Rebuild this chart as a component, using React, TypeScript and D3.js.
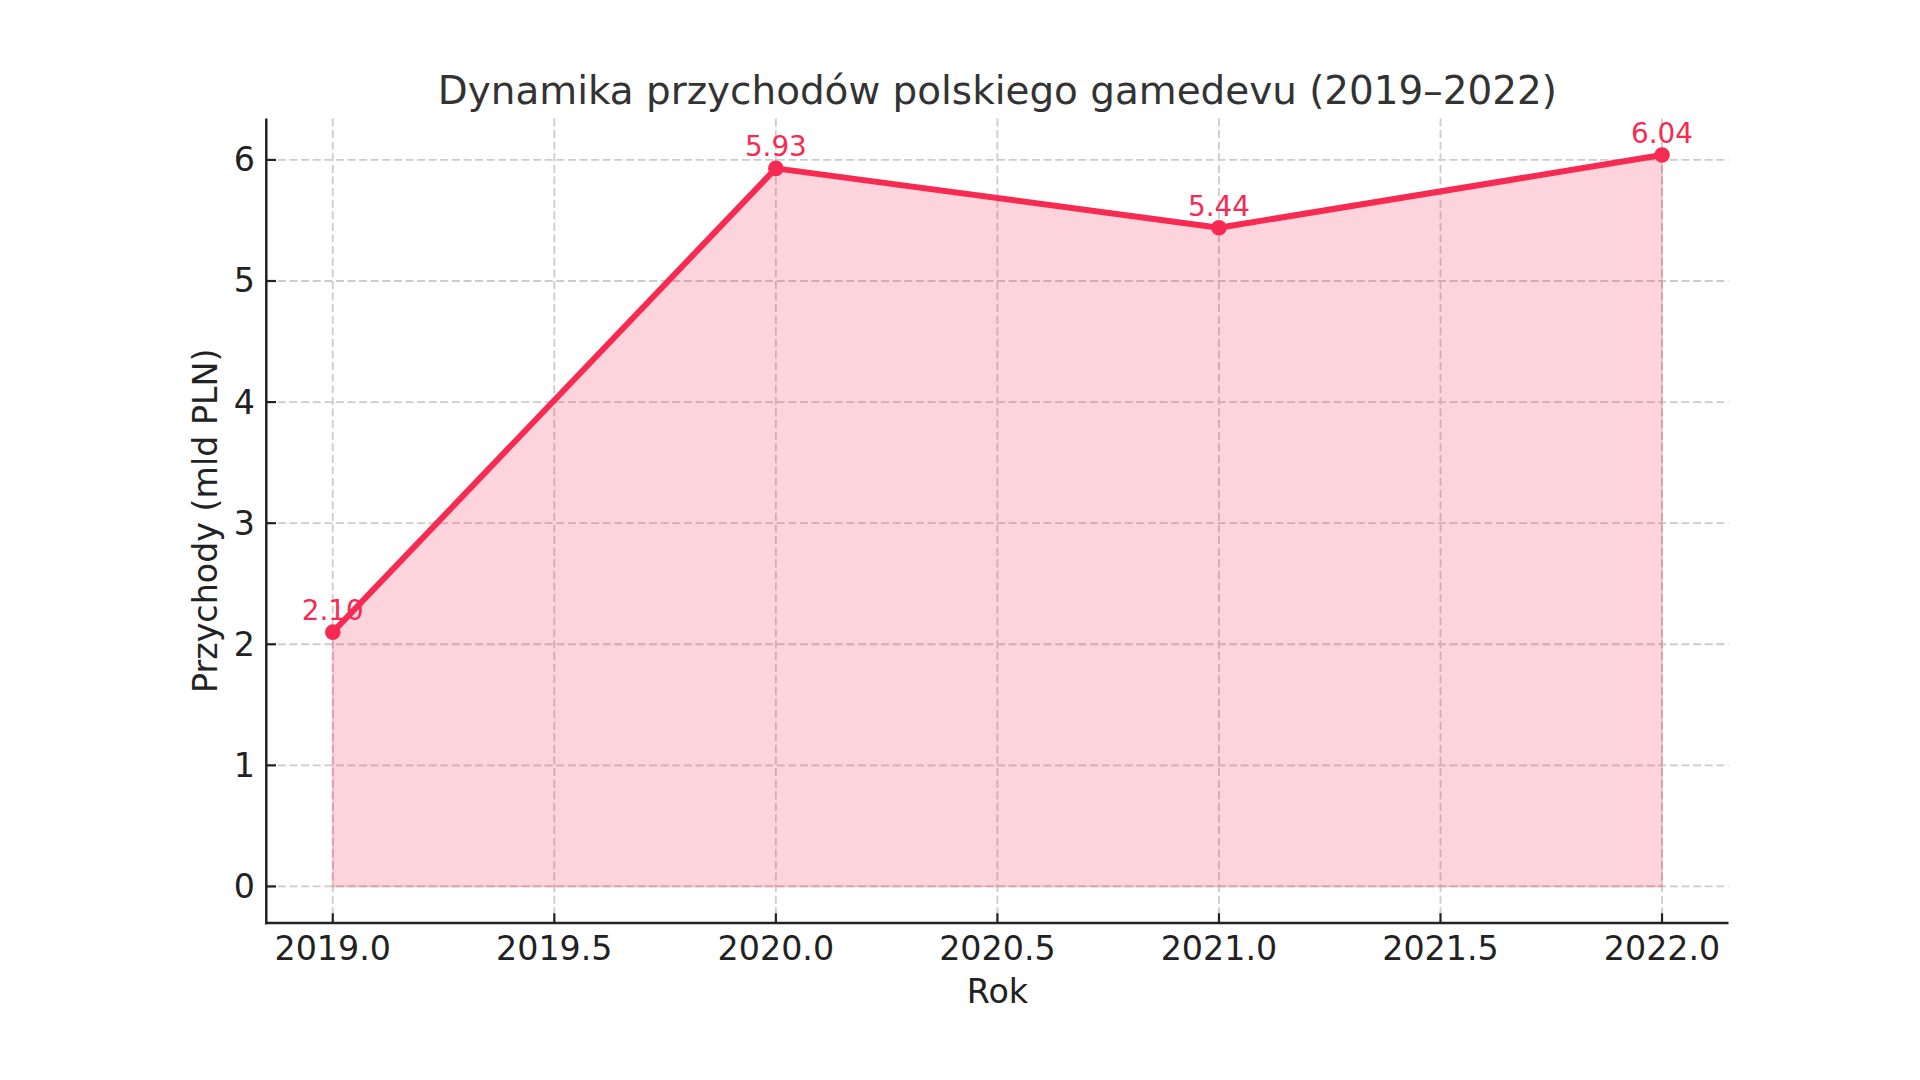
import React from "react";
import * as d3 from "d3";

const years = [2019, 2020, 2021, 2022];
const revenues = [2.1, 5.93, 5.44, 6.04];
const xTicks = [2019.0, 2019.5, 2020.0, 2020.5, 2021.0, 2021.5, 2022.0];
const yTicks = [0, 1, 2, 3, 4, 5, 6];
const title = "Dynamika przychodów polskiego gamedevu (2019–2022)";
const xLabel = "Rok";
const yLabel = "Przychody (mld PLN)";

const W = 1920;
const H = 1080;
const left = 266.3;
const right = 1728.5;
const top = 118.5;
const bottom = 923;
const LINE = "#f72a52";
const FONT = "DejaVu Sans";

export default function App() {
  const xMin = d3.min(years)!;
  const xMax = d3.max(years)!;
  const xPad = (xMax - xMin) * 0.05;
  const yMaxData = d3.max(revenues)!;
  const yPad = yMaxData * 0.05;
  const x = d3.scaleLinear().domain([xMin - xPad, xMax + xPad]).range([left, right]);
  const y = d3.scaleLinear().domain([0 - yPad, yMaxData + yPad]).range([bottom, top]);

  const pts = years.map((yr, i) => [yr, revenues[i]] as [number, number]);
  const lineGen = d3.line<[number, number]>().x((d) => x(d[0])).y((d) => y(d[1]));
  const areaGen = d3
    .area<[number, number]>()
    .x((d) => x(d[0]))
    .y0(() => y(0))
    .y1((d) => y(d[1]));

  const cx = (left + right) / 2;
  const cy = (top + bottom) / 2;

  return (
    <svg
      width={W}
      height={H}
      viewBox={`0 0 ${W} ${H}`}
      style={{ position: "absolute", left: 0, top: 0, background: "#fff" }}
      fontFamily={FONT}
    >
      <rect x={0} y={0} width={W} height={H} fill="#fff" />
      {/* grid */}
      <g stroke="#cccccc" strokeWidth={1.8} strokeDasharray="8,3.6">
        {xTicks.map((t) => (
          <line key={"gx" + t} x1={x(t)} x2={x(t)} y1={top} y2={bottom} />
        ))}
        {yTicks.map((t) => (
          <line key={"gy" + t} x1={left} x2={right} y1={y(t)} y2={y(t)} />
        ))}
      </g>
      {/* area */}
      <path
        d={areaGen(pts)!}
        fill={LINE}
        fillOpacity={0.2}
        stroke={LINE}
        strokeOpacity={0.2}
        strokeWidth={2}
      />
      {/* line */}
      <path d={lineGen(pts)!} fill="none" stroke={LINE} strokeWidth={6} strokeLinejoin="round" />
      {pts.map((p, i) => (
        <circle key={"m" + i} cx={x(p[0])} cy={y(p[1])} r={7.8} fill={LINE} />
      ))}
      {pts.map((p, i) => (
        <text
          key={"l" + i}
          x={x(p[0])}
          y={y(p[1]) - 12}
          textAnchor="middle"
          fontSize={27.8}
          fill={LINE}
        >
          {p[1].toFixed(2)}
        </text>
      ))}
      {/* spines */}
      <g stroke="#222" strokeWidth={2.5} fill="none">
        <line x1={left} x2={left} y1={top} y2={bottom + 1.25} />
        <line x1={left - 1.25} x2={right} y1={bottom} y2={bottom} />
      </g>
      {/* ticks */}
      <g stroke="#222" strokeWidth={2.2}>
        {xTicks.map((t) => (
          <line key={"tx" + t} x1={x(t)} x2={x(t)} y1={bottom} y2={bottom - 9.7} />
        ))}
        {yTicks.map((t) => (
          <line key={"ty" + t} x1={left} x2={left + 9.7} y1={y(t)} y2={y(t)} />
        ))}
      </g>
      {/* tick labels */}
      <g fill="#222" fontSize={33.3}>
        {xTicks.map((t) => (
          <text key={"xl" + t} x={x(t)} y={960} textAnchor="middle">
            {t.toFixed(1)}
          </text>
        ))}
        {yTicks.map((t) => (
          <text key={"yl" + t} x={255} y={y(t)} textAnchor="end" dominantBaseline="central">
            {d3.format("d")(t)}
          </text>
        ))}
      </g>
      {/* axis labels */}
      <text x={cx} y={1003} textAnchor="middle" fontSize={33.3} fill="#222">
        {xLabel}
      </text>
      <text
        transform={`translate(217,${cy}) rotate(-90)`}
        textAnchor="middle"
        fontSize={33.3}
        fill="#222"
      >
        {yLabel}
      </text>
      {/* title */}
      <text x={cx} y={104} textAnchor="middle" fontSize={38.9} fill="#333">
        {title}
      </text>
    </svg>
  );
}
